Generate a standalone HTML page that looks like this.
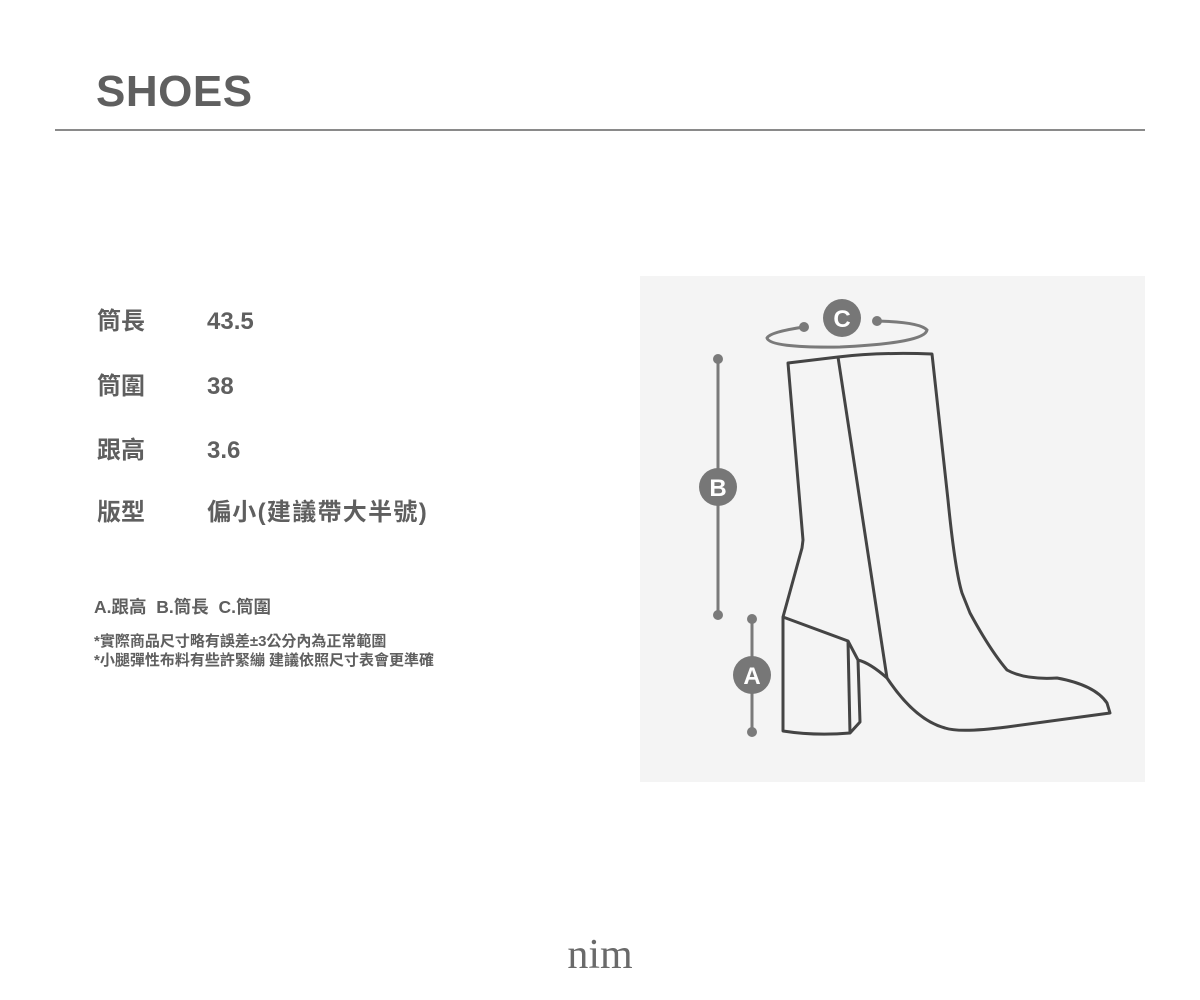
<!DOCTYPE html>
<html><head><meta charset="utf-8"><style>
body{margin:0;width:1200px;height:1000px;background:#fff;position:relative;overflow:hidden;font-family:"Liberation Sans","Noto Sans CJK TC",sans-serif;color:#5f5f5f}
.a{position:absolute;white-space:nowrap;font-weight:bold}
</style></head><body>
<div class="a" style="left:96px;top:64px;font-size:44px;line-height:56px;letter-spacing:0.5px">SHOES</div>
<div style="position:absolute;left:55px;top:129px;width:1090px;height:2px;background:#8a8a8a"></div>
<div class="a" style="left:97px;top:307px;font-size:24px;line-height:30px">筒長</div>
<div class="a" style="left:207px;top:307px;font-size:24px;line-height:30px">43.5</div>
<div class="a" style="left:97px;top:372px;font-size:24px;line-height:30px">筒圍</div>
<div class="a" style="left:207px;top:372px;font-size:24px;line-height:30px">38</div>
<div class="a" style="left:97px;top:436px;font-size:24px;line-height:30px">跟高</div>
<div class="a" style="left:207px;top:436px;font-size:24px;line-height:30px">3.6</div>
<div class="a" style="left:97px;top:498px;font-size:24px;line-height:30px">版型</div>
<div class="a" style="left:207px;top:498px;font-size:24px;line-height:30px;letter-spacing:1.3px">偏小(建議帶大半號)</div>
<div class="a" style="left:94px;top:596px;font-size:17.5px;line-height:22px">A.跟高&nbsp; B.筒長&nbsp; C.筒圍</div>
<div class="a" style="left:94px;top:632px;font-size:15px;line-height:19px">*實際商品尺寸略有誤差±3公分內為正常範圍<br>*小腿彈性布料有些許緊繃 建議依照尺寸表會更準確</div>
<div style="position:absolute;left:640px;top:276px;width:505px;height:506px;background:#f4f4f4"></div>
<svg style="position:absolute;left:0;top:0" width="1200" height="1000">
<g fill="none" stroke="#444" stroke-width="3" stroke-linejoin="round">
<path d="M788,363 L838,357 Q880,352 932,354 L948,500 Q955,570 962,593 L970,613 Q990,650 1007,670 Q1025,680 1057,678 Q1095,685 1107,703 L1110,713 Q1060,720 1007,727 Q960,733 945,728 Q915,720 887,678 Q870,663 858,660 L848,641 L783,617 L802,548 L803,540 Z"/>
<path d="M838,357 L887,678"/>
<path d="M783,617 L783,731 Q815,736 850,733 L860,722 L858,660"/>
<path d="M848,641 L850,733"/>
</g>
<g stroke="#7a7a7a" stroke-width="3" fill="#7a7a7a">
<line x1="718" y1="359" x2="718" y2="615"/><circle cx="718" cy="359" r="3.5"/><circle cx="718" cy="615" r="3.5"/>
<line x1="752" y1="619" x2="752" y2="732"/><circle cx="752" cy="619" r="3.5"/><circle cx="752" cy="732" r="3.5"/>
<path d="M804,327 Q770,332 767,338 Q770,348 840,347 Q925,343 927,330 Q920,322 877,321" fill="none"/>
<circle cx="804" cy="327" r="3.5"/><circle cx="877" cy="321" r="3.5"/>
</g>
<g fill="#777">
<circle cx="718" cy="487" r="19"/><circle cx="752" cy="675" r="19"/><circle cx="842" cy="318" r="19"/>
</g>
<g fill="#fff" font-family="Liberation Sans,sans-serif" font-weight="bold" font-size="24" text-anchor="middle">
<text x="718" y="496">B</text><text x="752" y="684">A</text><text x="842" y="327">C</text>
</g>
</svg>
<div style="position:absolute;left:550px;top:930px;width:100px;text-align:center;font-family:'Liberation Serif',serif;font-size:42px;line-height:50px;color:#6a6a6a">nim</div>
</body></html>
